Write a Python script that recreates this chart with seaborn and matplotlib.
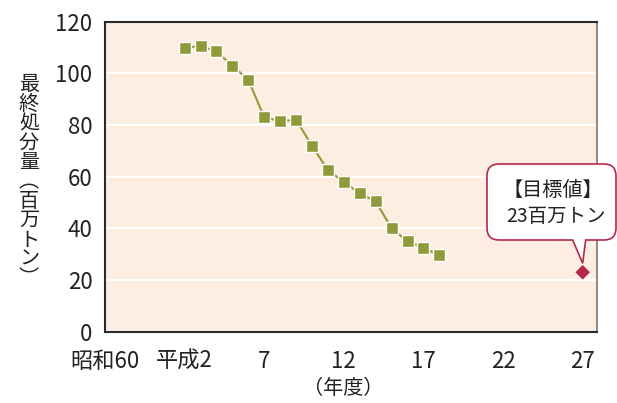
import numpy as np
import pandas as pd
import matplotlib
matplotlib.use("Agg")
import matplotlib.pyplot as plt
from matplotlib.path import Path
from matplotlib.patches import PathPatch
import seaborn as sns

# Final disposal amount (million tonnes), fiscal years 1990-2006
years = [1990, 1991, 1992, 1993, 1994, 1995, 1996, 1997, 1998,
         1999, 2000, 2001, 2002, 2003, 2004, 2005, 2006]
disposal = [110, 110.5, 108.5, 103, 97.5, 83, 81.5, 82, 72,
            62.5, 58, 53.5, 50.5, 40, 35, 32.5, 29.5]

# Target for fiscal 2015
target_year = [2015]
target_value = [23]

tick_years = [1985, 1990, 1995, 2000, 2005, 2010, 2015]
tick_labels = ["昭和60", "平成2", "7", "12", "17", "22", "27"]
y_ticks = [0, 20, 40, 60, 80, 100, 120]

sns.set_style("white")
plt.rcParams["font.family"] = ["Noto Sans CJK JP", "DejaVu Sans"]

W, H = 617, 403
fig = plt.figure(figsize=(W / 100, H / 100), dpi=100)
ax = fig.add_axes([105 / W, 1 - 331.7 / H, (597 - 105) / W, (331.7 - 21.7) / H])
ax.set_facecolor("#fdeee1")

olive = "#8f9a3a"
crimson = "#b5284e"
text_col = "#222222"

df = pd.DataFrame({"year": years, "value": disposal})
sns.lineplot(data=df, x="year", y="value", ax=ax, color=olive, linewidth=1.5,
             marker="s", markersize=8.5, markerfacecolor=olive,
             markeredgecolor="white", markeredgewidth=1.0, zorder=3)

tdf = pd.DataFrame({"year": target_year, "value": target_value})
sns.scatterplot(data=tdf, x="year", y="value", ax=ax, marker="D", s=55,
                color=crimson, edgecolor="none", zorder=4, clip_on=False)

ax.set_xlim(1985, 2015.9)
ax.set_ylim(0, 120)
ax.set_xticks(tick_years)
ax.set_xticklabels(tick_labels, fontsize=16)
ax.set_yticks(y_ticks)
ax.set_yticklabels([str(v) for v in y_ticks], fontsize=16)
ax.tick_params(axis="x", direction="in", length=5, width=1, color="#555555",
               pad=13, labelcolor=text_col)
ax.tick_params(axis="y", length=0, pad=9, labelcolor=text_col)
ax.set_xlabel("")
ax.set_ylabel("")

for v in y_ticks[1:-1]:
    ax.axhline(v, color="white", linewidth=1.5, zorder=1)

for side in ["left", "bottom", "top"]:
    ax.spines[side].set_color("#2a2a2a")
    ax.spines[side].set_linewidth(1.5)
ax.spines["right"].set_color("#777777")
ax.spines["right"].set_linewidth(1.2)

# Vertical y-axis title written top to bottom with vertical-form brackets
ylabel = "最終処分量︵百万トン︶"
fig.text(29 / W, 1 - 182 / H, "\n".join(ylabel), fontsize=14.5,
         ha="center", va="center", linespacing=0.9, color=text_col)

fig.text(343 / W, 1 - 389 / H, "（年度）", fontsize=14.5, ha="center",
         va="center", color=text_col)

# Speech-bubble callout pointing at the target marker
fig.canvas.draw()
tip_x, tip_y = ax.transData.transform((target_year[0], target_value[0]))
tip_y += 9
L, R, B, T, r = 487, 616, 163, 239, 12
bl, br = tip_x - 10, tip_x + 3
verts = [
    (L + r, T), (R - r, T), (R, T), (R, T - r), (R, B + r), (R, B), (R - r, B),
    (br, B), (tip_x, tip_y), (bl, B), (L + r, B), (L, B), (L, B + r),
    (L, T - r), (L, T), (L + r, T), (L + r, T),
]
codes = [
    Path.MOVETO, Path.LINETO, Path.CURVE3, Path.CURVE3, Path.LINETO, Path.CURVE3,
    Path.CURVE3, Path.LINETO, Path.LINETO, Path.LINETO, Path.LINETO, Path.CURVE3,
    Path.CURVE3, Path.LINETO, Path.CURVE3, Path.CURVE3, Path.CLOSEPOLY,
]
verts = [(x / W, y / H) for x, y in verts]
bubble = PathPatch(Path(verts, codes), facecolor="white", edgecolor=crimson,
                   linewidth=1.2, transform=fig.transFigure, zorder=10)
fig.patches.append(bubble)

fig.text(553 / W, 1 - 190 / H, "【目標値】", fontsize=14.5, ha="center",
         va="center", color=text_col, zorder=11)
fig.text(556 / W, 1 - 217 / H, "23百万トン", fontsize=14, ha="center",
         va="center", color=text_col, zorder=11)

fig.savefig("out.png", dpi=100)
